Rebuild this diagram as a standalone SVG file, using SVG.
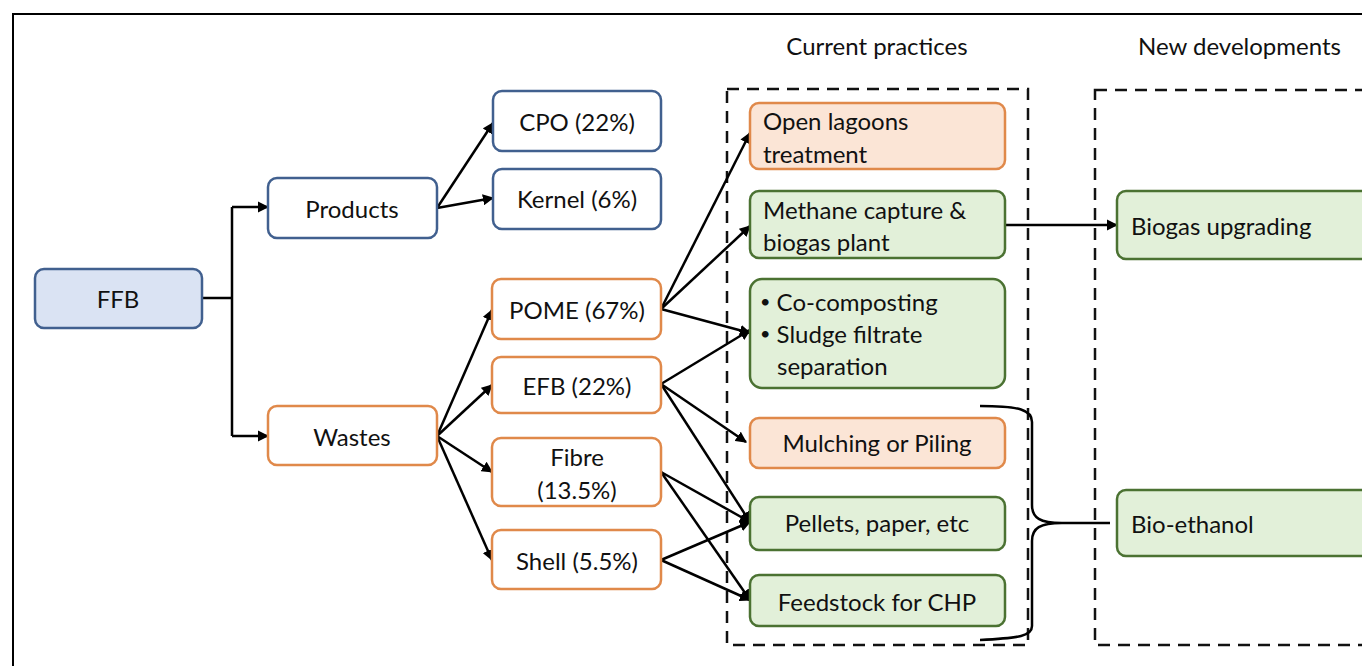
<svg xmlns="http://www.w3.org/2000/svg" width="1362" height="666" viewBox="0 0 1362 666">
<style>
text{font-family:"Lato","Open Sans","Liberation Sans",sans-serif;font-size:24px;fill:#111;dominant-baseline:central}
.c{text-anchor:middle}
.blue{fill:#fff;stroke:#41608f;stroke-width:2.5}
.ffb{fill:#dae3f3;stroke:#41608f;stroke-width:2.5}
.or{fill:#fff;stroke:#e0894a;stroke-width:2.5}
.orf{fill:#fbe5d6;stroke:#e0894a;stroke-width:2.5}
.gr{fill:#e2f0d9;stroke:#4b7232;stroke-width:2.5}
.dash{fill:none;stroke:#111;stroke-width:2.5;stroke-dasharray:12,8}
.ln{fill:none;stroke:#000;stroke-width:2.5}
.ar{fill:none;stroke:#000;stroke-width:2.5;marker-end:url(#ah)}
.b{font-size:18px}
</style>
<defs>
<marker id="ah" viewBox="0 0 10 10" refX="9" refY="5" markerWidth="4.5" markerHeight="4.5" orient="auto" markerUnits="strokeWidth">
<path d="M0,0 L10,5 L0,10 z" fill="#000"/>
</marker>
</defs>
<rect x="0" y="0" width="1362" height="666" fill="#fff"/>
<path d="M13,666 V14 H1362" fill="none" stroke="#000" stroke-width="2"/>
<g id="titles">
<text class="c" x="877" y="45">Current practices</text>
<text x="1138" y="45">New developments</text>
</g>
<g id="groups">
<rect class="dash" x="727" y="89" width="301" height="556"/>
<rect class="dash" x="1095" y="90" width="290" height="555"/>
</g>
<g id="connectors">
<path class="ln" d="M202,298 H232 M232,207 V436"/>
<path class="ar" d="M232,207 H268"/>
<path class="ar" d="M232,436 H268"/>
<path class="ar" d="M437,208 L493,123"/>
<path class="ar" d="M437,208 L493,198"/>
<path class="ar" d="M437,436 L492,310"/>
<path class="ar" d="M437,436 L492,385"/>
<path class="ar" d="M437,436 L492,472"/>
<path class="ar" d="M437,436 L492,560"/>
<path class="ar" d="M661,309 L750,133"/>
<path class="ar" d="M661,309 L750,226"/>
<path class="ar" d="M661,309 L750,333"/>
<path class="ar" d="M661,384 L750,330"/>
<path class="ar" d="M661,384 L746,442"/>
<path class="ar" d="M661,384 L750,522"/>
<path class="ar" d="M661,472 L750,522"/>
<path class="ar" d="M661,472 L750,600"/>
<path class="ar" d="M661,560 L750,522"/>
<path class="ar" d="M661,560 L750,600"/>
<path class="ar" d="M1005,225 H1117"/>
<path class="ln" d="M980,406 C1020,406 1032,410 1032,422 V505 C1032,518 1040,523 1062,523 C1040,523 1032,528 1032,541 V626 C1032,636 1020,638 980,640"/>
<path class="ln" d="M1062,523 H1110"/>
</g>
<g id="ffb"><rect class="ffb" x="35" y="269" width="167" height="59" rx="9"/><text class="c" x="118" y="298">FFB</text></g>
<g id="products"><rect class="blue" x="268" y="178" width="169" height="60" rx="9"/><text class="c" x="352" y="208">Products</text></g>
<g id="wastes"><rect class="or" x="268" y="406" width="169" height="59" rx="9"/><text class="c" x="352" y="436">Wastes</text></g>
<g id="cpo"><rect class="blue" x="493" y="91" width="168" height="60" rx="9"/><text class="c" x="577" y="121">CPO (22%)</text></g>
<g id="kernel"><rect class="blue" x="493" y="169" width="168" height="60" rx="9"/><text class="c" x="577" y="198">Kernel (6%)</text></g>
<g id="pome"><rect class="or" x="492" y="279" width="169" height="60" rx="9"/><text class="c" x="577" y="309">POME (67%)</text></g>
<g id="efb"><rect class="or" x="492" y="357" width="169" height="56" rx="9"/><text class="c" x="577" y="385">EFB (22%)</text></g>
<g id="fibre"><rect class="or" x="492" y="438" width="169" height="68" rx="9"/><text class="c" x="577" y="456">Fibre</text><text class="c" x="577" y="489">(13.5%)</text></g>
<g id="shell"><rect class="or" x="492" y="530" width="169" height="59" rx="9"/><text class="c" x="577" y="560">Shell (5.5%)</text></g>
<g id="lagoons"><rect class="orf" x="750" y="103" width="255" height="66" rx="9"/><text x="763" y="120">Open lagoons</text><text x="763" y="153">treatment</text></g>
<g id="methane"><rect class="gr" x="750" y="191" width="255" height="67" rx="9"/><text x="763" y="209">Methane capture &amp;</text><text x="763" y="241">biogas plant</text></g>
<g id="composting"><rect class="gr" x="750" y="279" width="255" height="109" rx="12"/><text x="760" y="301"><tspan class="b">•</tspan> Co-composting</text><text x="760" y="333"><tspan class="b">•</tspan> Sludge filtrate</text><text x="777" y="365">separation</text></g>
<g id="mulching"><rect class="orf" x="750" y="418" width="255" height="50" rx="9"/><text class="c" x="877" y="442">Mulching or Piling</text></g>
<g id="pellets"><rect class="gr" x="750" y="497" width="255" height="53" rx="9"/><text class="c" x="877" y="522">Pellets, paper, etc</text></g>
<g id="feedstock"><rect class="gr" x="750" y="575" width="255" height="51" rx="9"/><text class="c" x="877" y="601">Feedstock for CHP</text></g>
<g id="biogas"><rect class="gr" x="1117" y="191" width="270" height="68" rx="9"/><text x="1131" y="225">Biogas upgrading</text></g>
<g id="bioethanol"><rect class="gr" x="1117" y="490" width="270" height="66" rx="9"/><text x="1131" y="523">Bio-ethanol</text></g>
</svg>
